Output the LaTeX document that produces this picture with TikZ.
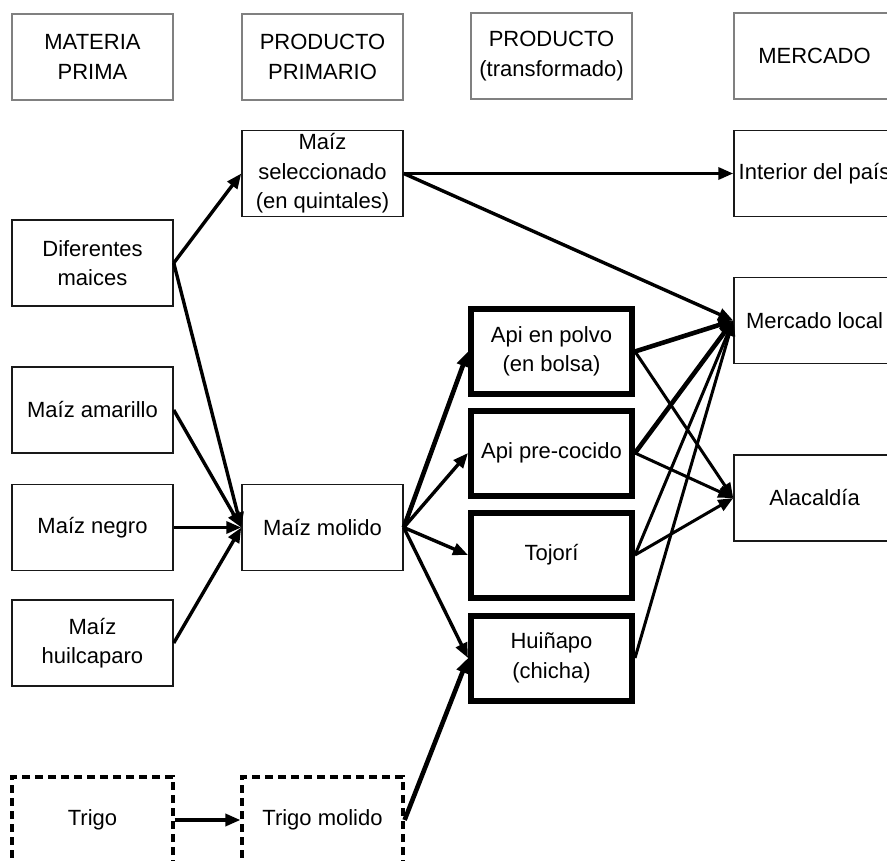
\documentclass[tikz,border=0pt]{standalone}
\usepackage{fontspec}
\setmainfont{Liberation Sans}
\usetikzlibrary{arrows.meta}
\newcommand\diagfont{\fontsize{22}{29.5}\selectfont}
\begin{document}
\begin{tikzpicture}[x=1pt,y=-1pt,
  box/.style={draw=black!90, line width=1.5pt, minimum width=161pt,
    minimum height=86pt, inner sep=0pt, align=center, font=\diagfont},
  headbox/.style={box, draw=black!50, line width=1.6pt},
  heavybox/.style={box, draw=black, line width=6pt, minimum height=85pt},
  dashbox/.style={box, draw=black, line width=3.2pt, dash pattern=on 8pt off 5pt},
  flow/.style={line width=3.4pt, -{Triangle[length=15pt,width=12pt]}},
  heavyflow/.style={flow, line width=4.6pt},
  link/.style={line width=3pt, -{Triangle[length=15pt,width=12pt]}}]
\useasboundingbox (0,0) rectangle (887,861);
\clip (0,0) rectangle (887,861);

% column headings
\node[headbox] (hA) at (92.5,57) {MATERIA\\PRIMA};
\node[headbox] (hB) at (322.5,57) {PRODUCTO\\PRIMARIO};
\node[headbox] (hC) at (551.5,56) {PRODUCTO\\(transformado)};
\node[headbox] (hD) at (814.5,56) {MERCADO};

% raw materials
\node[box] (dif) at (92.5,263) {Diferentes\\maices};
\node[box] (ama) at (92.5,410) {Maíz amarillo};
\node[box] (neg) at (92.5,527.5) {Maíz negro};
\node[box] (hui) at (92.5,643) {Maíz\\huilcaparo};
\node[dashbox] (tri) at (92.5,820) {Trigo};

% primary products
\node[box] (sel) at (322.5,173.5) {Maíz\\seleccionado\\(en quintales)};
\node[box] (mol) at (322.5,527.5) {Maíz molido};
\node[dashbox] (trm) at (322.5,820) {Trigo molido};

% processed products
\node[heavybox] (api) at (551.5,351.5) {Api en polvo\\(en bolsa)};
\node[heavybox] (pre) at (551.5,453) {Api pre-cocido};
\node[heavybox] (toj) at (551.5,555) {Tojorí};
\node[heavybox] (huin) at (551.5,658) {Huiñapo\\(chicha)};

% markets
\node[box] (int) at (814.5,173.5) {Interior del país};
\node[box] (loc) at (814.5,320.5) {Mercado local};
\node[box] (alc) at (814.5,498) {Alacaldía};

% flows
\draw[flow] (dif.east) -- (sel.west);
\draw[flow] (dif.east) -- (mol.west);
\draw[flow] (ama.east) -- (mol.west);
\draw[flow] (neg.east) -- (mol.west);
\draw[flow] (hui.east) -- (mol.west);
\draw[flow] (tri.east) -- (trm.west);

\draw[flow] (sel.east) -- (int.west);
\draw[flow] (sel.east) -- (loc.west);

\draw[heavyflow] (mol.east) -- (api.west);
\draw[flow] (mol.east) -- (pre.west);
\draw[flow] (mol.east) -- (toj.west);
\draw[flow] (mol.east) -- (huin.west);
\draw[heavyflow] (trm.east) -- (huin.west);

\draw[heavyflow] (api.east) -- (loc.west);
\draw[link] (api.east) -- (alc.west);
\draw[heavyflow] (pre.east) -- (loc.west);
\draw[link] (pre.east) -- (alc.west);
\draw[link] (toj.east) -- (loc.west);
\draw[link] (toj.east) -- (alc.west);
\draw[link] (huin.east) -- (loc.west);
\end{tikzpicture}
\end{document}
